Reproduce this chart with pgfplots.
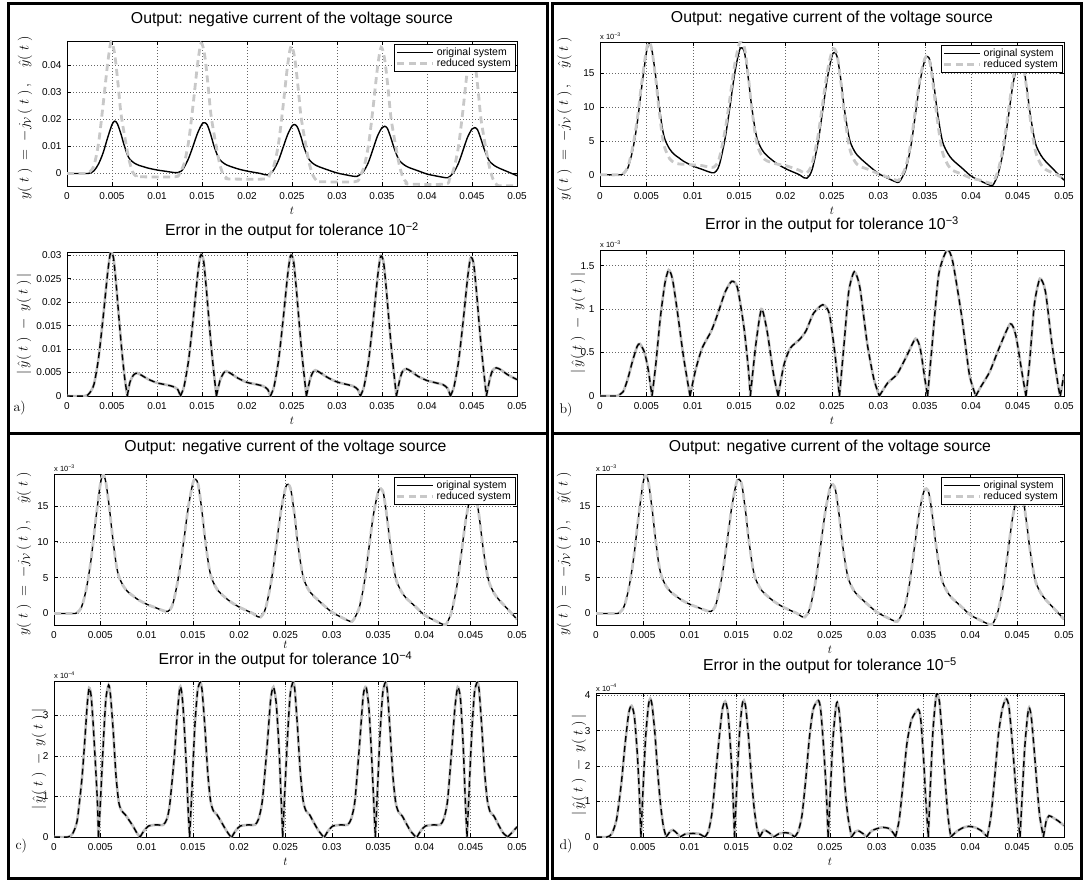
\documentclass[border=0pt]{standalone}
\usepackage{fontspec}
\usepackage{pgfplots}
\usepackage{pgfplotstable}
\pgfplotsset{compat=1.18}
\newfontfamily\hv{Liberation Sans}
\definecolor{lgray}{RGB}{200,200,200}
\definecolor{egray}{RGB}{190,190,190}
\newcommand{\tk}{\hv\fontsize{10}{11}\selectfont}
\newcommand{\lgd}{\hv\fontsize{10.5}{12}\selectfont}
\newcommand{\ttl}{\hv\fontsize{15.8}{18}\selectfont}
\newcommand{\sm}{\mkern5mu}
\newcommand{\labA}{$y(\sm t\sm)\;=\;-j_{\mathcal{V}}\,(\sm t\sm)\,,\quad\hat{y}(\sm t\sm)$}
\newcommand{\labB}{$|\,\hat{y}(\sm t\sm)\;-\;y(\sm t\sm)\,|$}
\newcommand{\expo}[1]{\hv\fontsize{7.5}{8}\selectfont x 10\textsuperscript{−#1}}

% original output, units 1e-3
\pgfplotstableread{
t y
0 0
0.001 0
0.002 0
0.0025 0.1
0.003 1
0.0035 3.5
0.004 7.5
0.0045 13
0.005 18
0.0053 19.3
0.0056 18.3
0.006 14.5
0.0063 11
0.0067 7
0.007 5.2
0.0075 3.8
0.008 3.0
0.0085 2.5
0.009 2.0
0.01 1.3
0.011 0.8
0.0118 0.4
0.0123 0.3
0.0127 0.9
0.013 2.2
0.0135 5.5
0.014 10
0.0145 14.8
0.015 18.2
0.0153 18.7
0.0156 17.8
0.016 14
0.0163 10.5
0.0167 6.8
0.017 5
0.0175 3.6
0.018 2.8
0.019 1.7
0.02 0.9
0.021 0.3
0.0215 0
0.022 -0.45
0.0223 -0.5
0.0227 0.2
0.023 1.5
0.0235 4.8
0.024 9.5
0.0245 14.2
0.025 17.5
0.0253 18
0.0256 17.1
0.026 13.5
0.0263 10
0.0267 6.5
0.027 4.7
0.0275 3.3
0.028 2.5
0.029 1.3
0.03 0.2
0.031 -0.5
0.0318 -1.0
0.0322 -1.1
0.0326 -0.3
0.033 1
0.0335 4.2
0.034 9
0.0345 13.8
0.035 16.9
0.0353 17.4
0.0356 16.6
0.036 13
0.0363 9.8
0.0367 6.3
0.037 4.5
0.0375 3.1
0.038 2.2
0.039 1.0
0.04 -0.2
0.041 -0.9
0.0418 -1.4
0.0423 -1.55
0.0427 -0.6
0.043 0.6
0.0435 3.8
0.044 8.5
0.0445 13.3
0.045 16.4
0.0453 16.9
0.0456 16.2
0.046 12.7
0.0463 9.5
0.0467 6.1
0.047 4.3
0.0475 2.9
0.048 2.0
0.049 0.6
0.05 -0.8
}\tabY

% reduced output, tolerance 1e-2, units 1e-3
\pgfplotstableread{
t y
0 0
0.002 0
0.0025 0.5
0.003 3
0.0035 11
0.004 25
0.0045 40
0.0049 48.5
0.0053 44
0.0057 32
0.006 22
0.0065 12
0.0069 5
0.0073 0.5
0.0077 -1
0.008 -1.2
0.012 -1.2
0.0125 0.2
0.013 3.5
0.0135 11.5
0.014 25
0.0145 40
0.0149 48
0.0153 43.5
0.0157 31.5
0.016 21.5
0.0165 11.5
0.0169 4.5
0.0173 0
0.0177 -1.5
0.018 -2
0.022 -2
0.0225 -0.5
0.023 3
0.0235 11
0.024 24.5
0.0245 39.5
0.0249 47
0.0253 42.5
0.0257 31
0.026 21
0.0265 11
0.0269 4
0.0273 -0.5
0.0277 -2.5
0.028 -3
0.032 -3
0.0325 -1.2
0.033 2.5
0.0335 10.5
0.034 24
0.0345 39
0.0349 46.5
0.0353 42
0.0357 30.5
0.036 20.5
0.0365 10.5
0.0369 3.5
0.0373 -1.2
0.0377 -3.2
0.038 -3.9
0.042 -3.9
0.0425 -2
0.043 2
0.0435 10
0.044 23.5
0.0445 38.5
0.0449 46
0.0453 41.5
0.0457 30
0.046 20
0.0465 10
0.0469 3
0.0473 -1.8
0.0477 -3.9
0.048 -4.5
0.05 -4.5
}\tabRa

% reduced output, tolerance 1e-3, units 1e-3
\pgfplotstableread{
t y
0 0
0.002 0
0.0025 0.15
0.003 1.2
0.0035 3.9
0.004 8.07
0.0045 13.6
0.005 18.4
0.0053 19.55
0.0056 18.3
0.006 14.15
0.0063 10.3
0.0067 5.85
0.007 3.9
0.0075 2.37
0.008 1.8
0.0085 1.6
0.009 1.55
0.01 1.45
0.011 1.35
0.0118 1.12
0.0123 1.15
0.0127 1.85
0.013 3.25
0.0135 6.7
0.014 11.3
0.0145 16.1
0.015 19.25
0.0153 19.55
0.0156 18.5
0.016 14.3
0.0163 10.4
0.0167 6.2
0.017 4.15
0.0175 2.63
0.018 2.05
0.019 1.6
0.02 1.35
0.021 0.9
0.0215 0.65
0.022 0.28
0.0223 0.28
0.0227 1.05
0.023 2.45
0.0235 5.8
0.024 10.55
0.0245 15.2
0.025 18.2
0.0253 18.5
0.0256 17.3
0.026 13.15
0.0263 9.35
0.0267 5.4
0.027 3.4
0.0275 1.88
0.028 1.25
0.029 0.75
0.03 0.15
0.031 -0.35
0.0318 -0.75
0.0322 -0.8
0.0326 0.08
0.033 1.45
0.0335 4.75
0.034 9.66
0.0345 14.35
0.035 17.1
0.0353 17.4
0.0356 16.2
0.036 12.1
0.0363 8.6
0.0367 4.8
0.037 2.9
0.0375 1.42
0.038 0.65
0.039 0.1
0.04 -0.5
0.041 -0.8
0.0418 -1.15
0.0423 -1.23
0.0427 -0.15
0.043 1.15
0.0435 4.5
0.044 9.3
0.0445 14.08
0.045 16.9
0.0453 17.2
0.0456 16.3
0.046 12.4
0.0463 8.9
0.0467 5.1
0.047 3.1
0.0475 1.55
0.048 0.8
0.049 0.15
0.05 -0.55
}\tabRb

% error, tolerance 1e-2, units 1e-3
\pgfplotstableread{
t e
0 0
0.002 0
0.0025 0.6
0.003 2.5
0.0035 8
0.004 16.5
0.0045 26
0.0048 30.3
0.005 30.5
0.0052 29
0.0055 23
0.0058 16
0.0061 9.5
0.0064 4
0.0067 0
0.0067 nan
0.0067 0
0.007 3
0.0074 4.5
0.0078 4.9
0.0083 4.4
0.009 3.6
0.01 2.8
0.011 2.4
0.0118 2.0
0.0123 1.4
0.0126 0
0.0126 nan
0.0126 0
0.013 2.0
0.0135 7.5
0.014 16
0.0145 25.5
0.0148 29.8
0.015 30
0.0152 28.5
0.0155 22.5
0.0158 15.5
0.0161 9
0.0164 3.5
0.0166 0
0.0166 nan
0.0166 0
0.017 3.3
0.0174 4.9
0.0177 5.3
0.0182 4.8
0.019 3.8
0.02 2.9
0.021 2.5
0.0218 2.1
0.0223 1.4
0.0226 0
0.0226 nan
0.0226 0
0.023 2.0
0.0235 7.5
0.024 16
0.0245 25.5
0.0248 29.7
0.025 29.9
0.0252 28.4
0.0255 22.5
0.0258 15.5
0.0261 9
0.0264 3.5
0.0266 0
0.0266 nan
0.0266 0
0.027 3.5
0.0273 5.0
0.0276 5.5
0.0281 5.0
0.029 3.9
0.03 3.0
0.031 2.5
0.0318 2.1
0.0323 1.4
0.0326 0
0.0326 nan
0.0326 0
0.033 2.0
0.0335 7.4
0.034 15.8
0.0345 25.2
0.0348 29.5
0.035 29.7
0.0352 28.2
0.0355 22.3
0.0358 15.4
0.0361 9
0.0364 3.5
0.0366 0
0.0366 nan
0.0366 0
0.037 3.7
0.0373 5.3
0.0377 5.8
0.0382 5.3
0.039 4.2
0.04 3.3
0.041 2.8
0.0418 2.4
0.0423 1.6
0.0426 0
0.0426 nan
0.0426 0
0.043 2.0
0.0435 7.3
0.044 15.6
0.0445 25
0.0448 29.2
0.045 29.4
0.0452 28
0.0455 22.2
0.0458 15.3
0.0461 9
0.0464 3.5
0.0466 0
0.0466 nan
0.0466 0
0.047 3.8
0.0473 5.5
0.0477 6.0
0.0482 5.6
0.049 4.5
0.05 3.5
}\tabEa

% error, tolerance 1e-3, units 1e-3
\pgfplotstableread{
t e
0 0
0.0018 0
0.002 0.01
0.0025 0.05
0.003 0.2
0.0035 0.4
0.004 0.57
0.0043 0.6
0.0048 0.5
0.0052 0.3
0.0056 0
0.0056 nan
0.0056 0
0.006 0.35
0.0065 0.9
0.007 1.3
0.0074 1.45
0.0078 1.35
0.0083 1.0
0.009 0.45
0.0097 0
0.0097 nan
0.0097 0
0.0103 0.3
0.011 0.55
0.012 0.75
0.0127 0.95
0.0135 1.2
0.0142 1.32
0.0148 1.25
0.0155 0.8
0.016 0.3
0.0162 0
0.0162 nan
0.0162 0
0.0168 0.6
0.0174 1.0
0.018 0.75
0.0187 0.25
0.0192 0
0.0192 nan
0.0192 0
0.0198 0.35
0.0205 0.55
0.0215 0.65
0.0222 0.75
0.023 0.95
0.024 1.05
0.0247 0.95
0.0253 0.5
0.0258 0
0.0258 nan
0.0258 0
0.0263 0.6
0.0268 1.2
0.0274 1.43
0.028 1.25
0.0288 0.6
0.0295 0.2
0.0301 0
0.0301 nan
0.0301 0
0.031 0.15
0.032 0.25
0.033 0.45
0.034 0.66
0.0345 0.55
0.035 0.2
0.0353 0
0.0353 nan
0.0353 0
0.0358 0.6
0.0365 1.4
0.0374 1.68
0.038 1.55
0.039 0.9
0.0398 0.25
0.0405 0
0.0405 nan
0.0405 0
0.041 0.1
0.042 0.28
0.043 0.55
0.0442 0.83
0.0448 0.7
0.0455 0.25
0.0459 0
0.0459 nan
0.0459 0
0.0463 0.4
0.0468 1.05
0.0474 1.35
0.048 1.2
0.0487 0.6
0.0494 0.1
0.0496 0
0.0496 nan
0.0496 0
0.05 0.25
}\tabEb

% error, tolerance 1e-4, units 1e-4
\pgfplotstableread{
t e
0 0
0.0015 0
0.002 0.08
0.0025 0.4
0.003 1.4
0.0033 2.3
0.0036 3.3
0.0038 3.68
0.004 3.5
0.0042 2.9
0.0045 1.7
0.0047 0.8
0.0048 0
0.0048 nan
0.0048 0
0.005 0.8
0.0053 2.2
0.0056 3.4
0.0059 3.75
0.0061 3.5
0.0064 2.6
0.0067 1.5
0.007 0.85
0.0073 0.65
0.0077 0.55
0.008 0.45
0.0085 0.28
0.009 0.08
0.0093 0
0.0093 nan
0.0093 0
0.0097 0.15
0.0102 0.27
0.011 0.3
0.0118 0.3
0.0122 0.45
0.0125 0.8
0.013 2.0
0.0133 3.0
0.0136 3.7
0.0138 3.55
0.014 3.0
0.0143 1.7
0.0145 0.6
0.01465 0
0.01465 nan
0.01465 0
0.0149 1.2
0.0152 2.7
0.0155 3.6
0.0158 3.82
0.016 3.6
0.0163 2.7
0.0166 1.6
0.0169 0.9
0.0172 0.65
0.0176 0.55
0.018 0.4
0.0185 0.2
0.019 0.03
0.0192 0
0.0192 nan
0.0192 0
0.0196 0.15
0.0201 0.27
0.021 0.3
0.0217 0.3
0.0221 0.45
0.0225 0.9
0.023 2.2
0.0234 3.4
0.0237 3.7
0.024 3.3
0.0243 2.2
0.0245 1.1
0.0247 0
0.0247 nan
0.0247 0
0.0249 1.0
0.0252 2.4
0.0255 3.5
0.0258 3.82
0.026 3.65
0.0263 2.7
0.0266 1.6
0.0269 0.9
0.0272 0.65
0.0276 0.55
0.028 0.38
0.0285 0.18
0.029 0.03
0.0292 0
0.0292 nan
0.0292 0
0.0296 0.15
0.0301 0.27
0.031 0.3
0.0317 0.3
0.0321 0.45
0.0325 0.9
0.033 2.3
0.0334 3.5
0.0337 3.7
0.034 3.2
0.0343 2.0
0.0345 1.0
0.0347 0
0.0347 nan
0.0347 0
0.0349 1.0
0.0352 2.5
0.0355 3.55
0.0358 3.82
0.036 3.6
0.0363 2.6
0.0366 1.5
0.0369 0.85
0.0372 0.62
0.0376 0.52
0.038 0.35
0.0385 0.15
0.039 0.02
0.0392 0
0.0392 nan
0.0392 0
0.0396 0.15
0.0401 0.27
0.041 0.3
0.0417 0.3
0.0421 0.45
0.0425 0.9
0.043 2.3
0.0433 3.2
0.0436 3.7
0.0439 3.4
0.0442 2.2
0.0444 1.0
0.0446 0
0.0446 nan
0.0446 0
0.0448 1.0
0.0451 2.5
0.0454 3.55
0.0457 3.82
0.0459 3.65
0.0462 2.7
0.0465 1.6
0.0468 0.9
0.0471 0.62
0.0475 0.52
0.048 0.3
0.0485 0.1
0.049 0
0.049 nan
0.049 0
0.0495 0.12
0.05 0.25
}\tabEc

% error, tolerance 1e-5, units 1e-4
\pgfplotstableread{
t e
0 0
0.0012 0
0.0017 0.1
0.0022 0.5
0.0027 1.5
0.0031 2.6
0.0035 3.5
0.0038 3.7
0.0041 3.4
0.0044 2.4
0.0046 1.4
0.0048 0
0.0048 nan
0.0048 0
0.005 1.2
0.0053 2.8
0.0056 3.7
0.0058 3.9
0.006 3.7
0.0063 2.9
0.0066 1.8
0.0069 0.9
0.0072 0.3
0.0075 0
0.0075 nan
0.0075 0
0.0079 0.15
0.0082 0.2
0.0086 0.12
0.009 0
0.009 nan
0.009 0
0.0095 0.08
0.0102 0.1
0.011 0.09
0.0116 0
0.0116 nan
0.0116 0
0.012 0.15
0.0124 0.7
0.0128 1.8
0.0132 2.9
0.0135 3.6
0.0138 3.82
0.0141 3.5
0.0144 2.4
0.0146 1.4
0.0148 0
0.0148 nan
0.0148 0
0.015 1.2
0.0153 2.8
0.0156 3.7
0.0158 3.85
0.016 3.65
0.0163 2.8
0.0166 1.7
0.0169 0.8
0.0172 0.25
0.0175 0
0.0175 nan
0.0175 0
0.0178 0.15
0.018 0.2
0.0185 0.12
0.019 0
0.019 nan
0.019 0
0.0196 0.1
0.0203 0.12
0.0208 0.09
0.0212 0
0.0212 nan
0.0212 0
0.0216 0.15
0.022 0.6
0.0224 1.6
0.0228 2.8
0.0232 3.6
0.02375 3.85
0.024 3.6
0.0243 2.6
0.0246 1.3
0.0248 0
0.0248 nan
0.0248 0
0.025 1.1
0.0253 2.7
0.0256 3.6
0.02577 3.8
0.026 3.5
0.0263 2.5
0.0266 1.4
0.0269 0.6
0.0273 0
0.0273 nan
0.0273 0
0.0277 0.15
0.028 0.18
0.0285 0.1
0.0289 0
0.0289 nan
0.0289 0
0.0295 0.18
0.0305 0.27
0.0313 0.24
0.0318 0.1
0.032 0
0.032 nan
0.032 0
0.0324 0.5
0.0328 1.5
0.0332 2.6
0.0337 3.3
0.03443 3.6
0.0347 3.3
0.035 2.2
0.0352 1.2
0.0355 0
0.0355 nan
0.0355 0
0.0357 1.3
0.036 3.0
0.0363 3.9
0.03645 4.05
0.0367 3.8
0.037 2.8
0.0373 1.6
0.0376 0.6
0.0379 0
0.0379 nan
0.0379 0
0.0385 0.15
0.0392 0.26
0.0398 0.3
0.0405 0.27
0.0412 0.17
0.0418 0
0.0418 nan
0.0418 0
0.0422 0.6
0.0426 1.7
0.043 2.9
0.0434 3.6
0.0438 3.9
0.0441 3.7
0.0444 2.9
0.0447 1.9
0.045 0.8
0.0453 0
0.0453 nan
0.0453 0
0.0455 1.0
0.0458 2.5
0.0461 3.4
0.04628 3.65
0.0465 3.4
0.0468 2.5
0.0471 1.5
0.0474 0.6
0.0478 0
0.0478 nan
0.0478 0
0.0481 0.45
0.0484 0.6
0.0488 0.55
0.0494 0.45
0.05 0.32
}\tabEd

\pgfplotsset{
  mat/.style={scale only axis, anchor=north west, xmin=0, xmax=0.05,
    scaled ticks=false,
    xtick={0,0.005,0.01,0.015,0.02,0.025,0.03,0.035,0.04,0.045,0.05},
    xticklabels={0,0.005,0.01,0.015,0.02,0.025,0.03,0.035,0.04,0.045,0.05},
    tick label style={font=\tk},
    xticklabel style={yshift=-2.5pt},
    yticklabel style={xshift=-2pt},
    grid=major,
    major grid style={black!60, line width=0.45pt, dash pattern=on 0.6pt off 2.4pt},
    tick align=inside, xtick pos=both, ytick pos=both, major tick length=4pt,
    axis line style={line width=0.9pt},
    every tick/.style={black, line width=0.6pt},
    unbounded coords=jump,
    xlabel={$t$},
    xlabel style={at={(axis description cs:0.5,0)}, anchor=center, yshift=-25pt, inner sep=1pt, font=\fontsize{13}{15}\selectfont},
    ylabel style={anchor=center, font=\fontsize{14}{16}\selectfont},
    title style={at={(axis description cs:0.5,1)}, anchor=center, inner sep=1pt, font=\ttl},
    legend style={at={(axis description cs:0.996,0.98)}, anchor=north east, font=\lgd, draw=black, line width=0.6pt, inner xsep=2pt, inner ysep=1.5pt, row sep=-2pt, fill=white},
    legend cell align=left,
    legend image code/.code={\draw[#1] (0pt,0pt) -- (36pt,0pt);},
  },
  orig/.style={black, line width=1.4pt, smooth, tension=0.5},
  redu/.style={lgray, line width=2.8pt, dash pattern=on 7pt off 4.5pt, smooth, tension=0.5},
  errg/.style={egray, line width=2.6pt, smooth, tension=0.4},
  errk/.style={black, line width=1.4pt, dash pattern=on 6pt off 4pt, smooth, tension=0.4},
  expo3/.style={extra description/.code={\node[anchor=south west, inner sep=0pt] at (0,1.012) {\expo{3}};}},
  expo4/.style={extra description/.code={\node[anchor=south west, inner sep=0pt] at (0,1.012) {\expo{4}};}},
}

\begin{document}
\begin{tikzpicture}
\useasboundingbox (0pt,0pt) rectangle (1084pt,-880pt);
\fill[white] (0pt,0pt) rectangle (1084pt,-880pt);

% ---------- panel a ----------
\begin{axis}[mat, at={(67pt,-41pt)}, width=450pt, height=145pt,
  ymin=-4.6, ymax=48.8, ytick={0,10,20,30,40}, yticklabels={0,0.01,0.02,0.03,0.04},
  title={Output: negative current of the voltage source}, title style={yshift=16pt},
  ylabel={\labA}, ylabel style={at={(axis description cs:-0.0933,0.47)}}]
\addplot[orig] table[x=t,y=y] {\tabY};
\addplot[redu] table[x=t,y=y] {\tabRa};
\legend{original system, reduced system}
\end{axis}
\begin{axis}[mat, at={(67pt,-252pt)}, width=450pt, height=144pt,
  ymin=0, ymax=30.7, ytick={0,5,10,15,20,25,30}, yticklabels={0,0.005,0.01,0.015,0.02,0.025,0.03},
  title={Error in the output for tolerance 10\textsuperscript{−2}}, title style={yshift=15pt},
  ylabel={\labB}, ylabel style={at={(axis description cs:-0.0956,0.5)}}]
\addplot[errg] table[x=t,y=e] {\tabEa};
\addplot[errk] table[x=t,y=e] {\tabEa};
\end{axis}

% ---------- panel b ----------
\begin{axis}[mat, expo3, at={(600pt,-42pt)}, width=464pt, height=144pt,
  ymin=-1.65, ymax=19.55, ytick={0,5,10,15}, yticklabels={0,5,10,15},
  title={Output: negative current of the voltage source}, title style={yshift=18pt},
  ylabel={\labA}, ylabel style={at={(axis description cs:-0.0765,0.47)}}]
\addplot[orig] table[x=t,y=y] {\tabY};
\addplot[redu] table[x=t,y=y] {\tabRb};
\legend{original system, reduced system}
\end{axis}
\begin{axis}[mat, expo3, at={(600pt,-250pt)}, width=464pt, height=146pt,
  ymin=0, ymax=1.68, ytick={0,0.5,1,1.5}, yticklabels={0,0.5,1,1.5},
  title={Error in the output for tolerance 10\textsuperscript{−3}}, title style={yshift=19pt},
  ylabel={\labB}, ylabel style={at={(axis description cs:-0.0474,0.5)}}]
\addplot[errg] table[x=t,y=e] {\tabEb};
\addplot[errk] table[x=t,y=e] {\tabEb};
\end{axis}

% ---------- panel c ----------
\begin{axis}[mat, expo3, at={(54pt,-474pt)}, width=463pt, height=151pt,
  ymin=-1.6, ymax=19.45, ytick={0,5,10,15}, yticklabels={0,5,10,15},
  title={Output: negative current of the voltage source}, title style={yshift=21pt},
  xlabel style={yshift=5pt},
  ylabel={\labA}, ylabel style={at={(axis description cs:-0.0648,0.47)}}]
\addplot[orig] table[x=t,y=y] {\tabY};
\addplot[redu] table[x=t,y=y] {\tabY};
\legend{original system, reduced system}
\end{axis}
\begin{axis}[mat, expo4, at={(54pt,-681pt)}, width=463pt, height=156pt,
  ymin=0, ymax=3.85, ytick={0,1,2,3}, yticklabels={0,1,2,3},
  title={Error in the output for tolerance 10\textsuperscript{−4}}, title style={yshift=15pt},
  ylabel={\labB}, ylabel style={at={(axis description cs:-0.0324,0.5)}}]
\addplot[errg] table[x=t,y=e] {\tabEc};
\addplot[errk] table[x=t,y=e] {\tabEc};
\end{axis}

% ---------- panel d ----------
\begin{axis}[mat, expo3, at={(596pt,-474pt)}, width=468pt, height=151pt,
  ymin=-1.6, ymax=19.45, ytick={0,5,10,15}, yticklabels={0,5,10,15},
  title={Output: negative current of the voltage source}, title style={yshift=21pt},
  ylabel={\labA}, ylabel style={at={(axis description cs:-0.0684,0.47)}}]
\addplot[orig] table[x=t,y=y] {\tabY};
\addplot[redu] table[x=t,y=y] {\tabY};
\legend{original system, reduced system}
\end{axis}
\begin{axis}[mat, expo4, at={(596pt,-693pt)}, width=468pt, height=144pt,
  ymin=0, ymax=4.06, ytick={0,1,2,3,4}, yticklabels={0,1,2,3,4},
  title={Error in the output for tolerance 10\textsuperscript{−5}}, title style={yshift=21pt},
  ylabel={\labB}, ylabel style={at={(axis description cs:-0.0363,0.5)}}]
\addplot[errg] table[x=t,y=e] {\tabEd};
\addplot[errk] table[x=t,y=e] {\tabEd};
\end{axis}

% ---------- frames and panel letters ----------
\draw[line width=3pt] (8pt,-4pt) rectangle (547pt,-433.5pt);
\draw[line width=3pt] (552pt,-4pt) rectangle (1081.5pt,-433.5pt);
\draw[line width=3pt] (8pt,-433.5pt) rectangle (547pt,-878pt);
\draw[line width=3pt] (552pt,-433.5pt) rectangle (1081.5pt,-878pt);
\node[anchor=west, font=\fontsize{14}{16}\selectfont] at (10pt,-408pt) {a)};
\node[anchor=west, font=\fontsize{14}{16}\selectfont] at (556pt,-410pt) {b)};
\node[anchor=west, font=\fontsize{14}{16}\selectfont] at (12pt,-846pt) {c)};
\node[anchor=west, font=\fontsize{14}{16}\selectfont] at (556pt,-846pt) {d)};
\end{tikzpicture}
\end{document}
